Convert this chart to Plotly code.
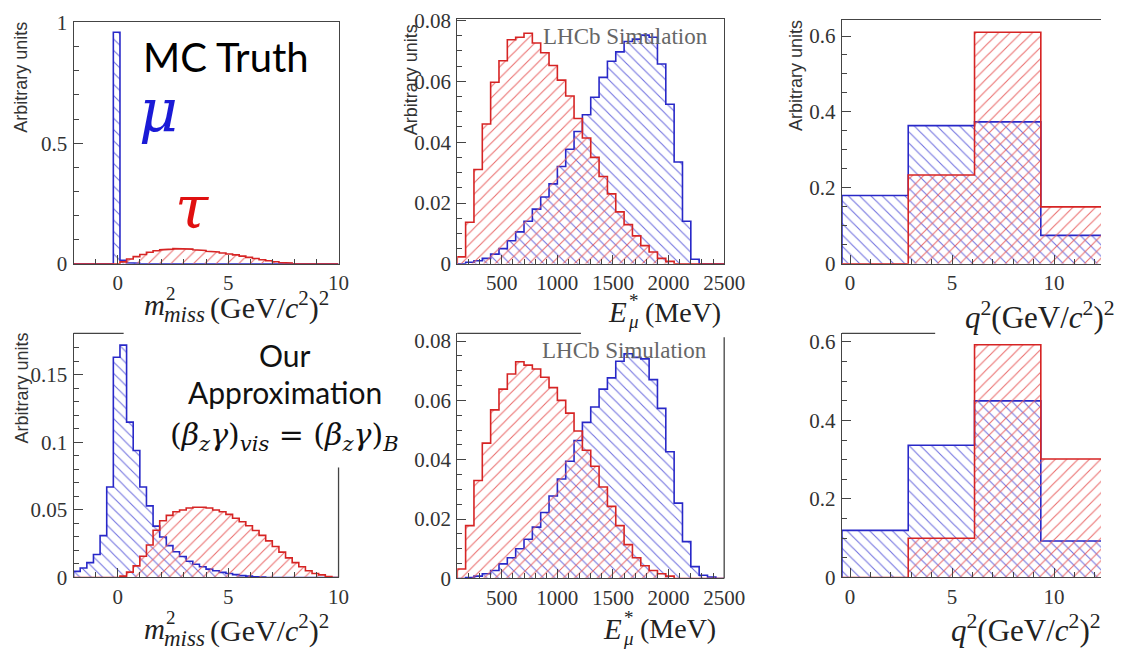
import numpy as np
import plotly.graph_objects as go

W, H = 1122, 658

# ---------------- data ----------------
# m_miss^2 : 40 bins of 0.3 GeV^2 starting at -2
MMISS_LOW, MMISS_BIN = -2.0, 0.3
mmiss_truth_mu = [0, 0, 0, 0, 0, 0, 0.96, 0.015, 0.004, 0.002,
                  0, 0, 0, 0, 0, 0, 0, 0, 0, 0,
                  0, 0, 0, 0, 0, 0, 0, 0, 0, 0,
                  0, 0, 0, 0, 0, 0, 0, 0, 0, 0]
mmiss_truth_tau = [0, 0, 0, 0, 0, 0, 0, 0.008, 0.02, 0.03,
                   0.039, 0.048, 0.054, 0.058, 0.061, 0.063, 0.064, 0.061, 0.058, 0.055,
                   0.052, 0.049, 0.045, 0.041, 0.037, 0.032, 0.027, 0.022, 0.017, 0.013,
                   0.009, 0.005, 0.003, 0.001, 0, 0, 0, 0, 0, 0]
mmiss_approx_mu = [0.0045, 0.007, 0.011, 0.017, 0.031, 0.067, 0.163, 0.172, 0.115, 0.094,
                   0.067, 0.053, 0.038, 0.030, 0.0236, 0.019, 0.0155, 0.012, 0.0098, 0.0079,
                   0.0062, 0.005, 0.0038, 0.003, 0.0021, 0.0014, 0.001, 0.0006, 0.0004, 0,
                   0, 0, 0, 0, 0, 0, 0, 0, 0, 0]
mmiss_approx_tau = [0, 0, 0, 0, 0, 0, 0, 0.001, 0.004, 0.0086,
                    0.0157, 0.024, 0.035, 0.042, 0.046, 0.0486, 0.050, 0.0514, 0.052, 0.052,
                    0.0514, 0.050, 0.0486, 0.0467, 0.0438, 0.0412, 0.0383, 0.0348, 0.0312, 0.0271,
                    0.0229, 0.0188, 0.0145, 0.011, 0.0079, 0.005, 0.003, 0.0019, 0.0007, 0]

# E*_mu : 32 bins of 75 MeV starting at 100 MeV
EMU_LOW, EMU_BIN = 100.0, 75.0
emu_truth_mu = [0, 0.0005, 0.001, 0.0018, 0.0032, 0.005, 0.0076, 0.0105, 0.014, 0.018,
                0.022, 0.0263, 0.032, 0.0377, 0.0435, 0.049, 0.0548, 0.0613, 0.0666, 0.0697,
                0.0731, 0.0739, 0.0752, 0.0745, 0.0657, 0.0525, 0.0335, 0.014, 0.0015, 0,
                0, 0]
emu_truth_tau = [0.0023, 0.0137, 0.031, 0.046, 0.0597, 0.0668, 0.0737, 0.0745, 0.0758, 0.0726,
                 0.0694, 0.0652, 0.0604, 0.0552, 0.0478, 0.0414, 0.035, 0.0287, 0.023, 0.0171,
                 0.0129, 0.0092, 0.006, 0.0039, 0.0018, 0.0008, 0, 0, 0, 0,
                 0, 0]
emu_approx_mu = [0, 0.0003, 0.0008, 0.0016, 0.0027, 0.0049, 0.007, 0.01, 0.0132, 0.0173,
                 0.0222, 0.0278, 0.0335, 0.0395, 0.0465, 0.0526, 0.0578, 0.0638, 0.0676, 0.0732,
                 0.0757, 0.0745, 0.074, 0.067, 0.0573, 0.0427, 0.0254, 0.0124, 0.004, 0.0011,
                 0.0005, 0]
emu_approx_tau = [0.0032, 0.0178, 0.033, 0.0456, 0.0568, 0.0638, 0.0689, 0.073, 0.0719, 0.0706,
                  0.0678, 0.0643, 0.06, 0.0557, 0.0497, 0.0432, 0.0378, 0.0308, 0.0243, 0.0178,
                  0.0114, 0.007, 0.0043, 0.0027, 0.0016, 0.0008, 0, 0, 0, 0,
                  0, 0]

# q^2 : four bins
q2_edges = [-0.4, 2.85, 6.1, 9.35, 12.6]
q2_truth_mu = [0.18, 0.364, 0.374, 0.075]
q2_truth_tau = [0.0, 0.234, 0.61, 0.15]
q2_approx_mu = [0.12, 0.337, 0.45, 0.093]
q2_approx_tau = [0.0, 0.10, 0.593, 0.302]

# ---------------- helpers ----------------
def px(x):
    return x / W


def py(y):
    return 1 - y / H


def uniform_edges(low, width, n):
    return [low + width * i for i in range(n + 1)]


def step_path(edges, values):
    xs, ys = [edges[0]], [0.0]
    for i, v in enumerate(values):
        xs += [edges[i], edges[i + 1]]
        ys += [v, v]
    xs.append(edges[-1])
    ys.append(0.0)
    return xs, ys


RED = "#d62424"
BLUE = "#2828c8"
RED_HATCH = "rgba(232,96,96,0.9)"
BLUE_HATCH = "rgba(100,100,220,0.9)"


def hist_trace(edges, values, color, hatch_color, shape, xa, ya):
    xs, ys = step_path(edges, values)
    return go.Scatter(
        x=xs, y=ys, mode="lines", xaxis=xa, yaxis=ya,
        line=dict(color=color, width=1.6, shape="linear"),
        fill="tozeroy", fillcolor="rgba(0,0,0,0)",
        fillpattern=dict(shape=shape, fgcolor=hatch_color, bgcolor="rgba(0,0,0,0)",
                         size=8, solidity=0.14, fillmode="replace"),
        hoverinfo="skip", showlegend=False,
    )


mm_edges = uniform_edges(MMISS_LOW, MMISS_BIN, len(mmiss_truth_mu))
emu_edges = uniform_edges(EMU_LOW, EMU_BIN, len(emu_truth_mu))

fig = go.Figure()
panels = [
    # (axis suffix, edges, mu values, tau values)
    ("", mm_edges, mmiss_truth_mu, mmiss_truth_tau),
    ("2", emu_edges, emu_truth_mu, emu_truth_tau),
    ("3", q2_edges, q2_truth_mu, q2_truth_tau),
    ("4", mm_edges, mmiss_approx_mu, mmiss_approx_tau),
    ("5", emu_edges, emu_approx_mu, emu_approx_tau),
    ("6", q2_edges, q2_approx_mu, q2_approx_tau),
]
for suf, edges, mu, tau in panels:
    fig.add_trace(hist_trace(edges, mu, BLUE, BLUE_HATCH, "\\", "x" + suf, "y" + suf))
    fig.add_trace(hist_trace(edges, tau, RED, RED_HATCH, "/", "x" + suf, "y" + suf))

AX_COLOR = "#444444"
TICK_FONT = dict(family="Liberation Serif", size=21, color="#333333")


def xaxis(x0, x1, rng, tickvals, minor, anchor, mirror):
    return dict(domain=[px(x0), px(x1)], range=rng, anchor=anchor,
                tickmode="array", tickvals=tickvals,
                ticks="inside", ticklen=9, tickwidth=1.2, tickcolor=AX_COLOR,
                minor=dict(ticks="inside", ticklen=5, tickwidth=1, tickcolor=AX_COLOR,
                           tickmode="linear", tick0=0, dtick=minor),
                showline=True, linecolor=AX_COLOR, linewidth=1.3, mirror=mirror,
                showgrid=False, zeroline=False, tickfont=TICK_FONT,
                ticklabelstandoff=0, fixedrange=True)


def yaxis(top, bottom, rng, tickvals, minor, anchor, mirror):
    return dict(domain=[py(bottom), py(top)], range=rng, anchor=anchor,
                tickmode="array", tickvals=tickvals,
                ticks="inside", ticklen=9, tickwidth=1.2, tickcolor=AX_COLOR,
                minor=dict(ticks="inside", ticklen=5, tickwidth=1, tickcolor=AX_COLOR,
                           tickmode="linear", tick0=0, dtick=minor),
                showline=True, linecolor=AX_COLOR, linewidth=1.3, mirror=mirror,
                showgrid=False, zeroline=False, tickfont=TICK_FONT,
                ticklabelstandoff=1, fixedrange=True)


layout_axes = dict(
    xaxis=xaxis(75, 345, [-2, 10], [0, 5, 10], 1, "y", True),
    yaxis=yaxis(11, 262, [0, 1.004], [0, 0.5, 1], 0.1, "x", True),
    xaxis2=xaxis(466, 738, [100, 2500], [500, 1000, 1500, 2000, 2500], 100, "y2", True),
    yaxis2=yaxis(8, 262, [0, 0.0806], [0, 0.02, 0.04, 0.06, 0.08], 0.005, "x2", True),
    xaxis3=xaxis(858, W, [-0.4, 12.3], [0, 5, 10], 1, "y3", True),
    yaxis3=yaxis(9, 262, [0, 0.643], [0, 0.2, 0.4, 0.6], 0.05, "x3", False),
    xaxis4=xaxis(75, 345, [-2, 10], [0, 5, 10], 1, "y4", False),
    yaxis4=yaxis(334, 587, [0, 0.1807], [0, 0.05, 0.1, 0.15], 0.01, "x4", False),
    xaxis5=xaxis(466, 738, [100, 2500], [500, 1000, 1500, 2000, 2500], 100, "y5", False),
    yaxis5=yaxis(334, 588, [0, 0.0826], [0, 0.02, 0.04, 0.06, 0.08], 0.005, "x5", False),
    xaxis6=xaxis(858, W, [-0.4, 12.3], [0, 5, 10], 1, "y6", False),
    yaxis6=yaxis(334, 587, [0, 0.622], [0, 0.2, 0.4, 0.6], 0.05, "x6", False),
)

# partial frame edges of the lower row
frame_segments = [
    (75, 334, 126, 334), (345, 473, 345, 587),
    (466, 334, 592, 334), (738, 338, 738, 588),
    (858, 334, 953, 334),
]
shapes = [dict(type="line", xref="paper", yref="paper",
               x0=px(a), y0=py(b), x1=px(c), y1=py(d),
               line=dict(color=AX_COLOR, width=1.3))
          for a, b, c, d in frame_segments]

annotations = []


def text(x, y, s, size, family="Liberation Serif", color="#222222",
         xanchor="left", yanchor="middle", angle=0):
    annotations.append(dict(x=px(x), y=py(y), xref="paper", yref="paper", text=s,
                            showarrow=False, xanchor=xanchor, yanchor=yanchor,
                            textangle=angle, borderpad=0,
                            font=dict(family=family, size=size, color=color)))


# y-axis titles
for x, y in [(22, 10), (419, 13), (811, 8), (22, 332)]:
    text(x, y, "Arbitrary units", 18, family="Liberation Sans", color="#333333",
         xanchor="center", yanchor="top", angle=-90)

# LHCb labels
text(637, 26, "LHCb Simulation", 23, color="#666666", xanchor="center")
text(636, 352, "LHCb Simulation", 23, color="#666666", xanchor="center")


# m_miss^2 axis titles: italic m with stacked exponent and subscript
def mmiss_title(x, base):
    text(x + 22, base - 8, "<i>m</i>", 29, xanchor="right")
    text(x + 21, base - 20, "2", 19)
    text(x + 19, base + 2, "<i>miss</i>", 23)
    text(x + 66, base - 8, "(GeV/<i>c</i><sup>2</sup>)<sup>2</sup>", 30)


mmiss_title(147, 313)
mmiss_title(147, 648)


def emu_title(x, base):
    text(x + 28, base - 8, "<i>E</i>", 29, xanchor="right")
    text(x + 28, base - 20, "*", 19)
    text(x + 27, base + 2, "<i>μ</i>", 19)
    text(x + 44, base - 8, "(MeV)", 28)


emu_title(612, 320)
emu_title(607, 648)

text(982, 316, "<i>q</i><sup>2</sup>(GeV/<i>c</i><sup>2</sup>)<sup>2</sup>", 31)
text(968, 640, "<i>q</i><sup>2</sup>(GeV/<i>c</i><sup>2</sup>)<sup>2</sup>", 31)

# slide text
text(145, 48, "MC Truth", 40, family="Lato", color="#000000")
text(141, 104, "<i>μ</i>", 60, family="DejaVu Serif", color="#1a1ad6")
text(177, 203, "<i>τ</i>", 60, family="DejaVu Serif", color="#e01010")
text(290, 356, "Our", 30, family="Lato", color="#111111", xanchor="center")
text(290, 395, "Approximation", 30, family="Lato", color="#111111", xanchor="center")
text(172, 441, "(<i>β<sub>z</sub>γ</i>)<sub><i>vis</i></sub> = (<i>β<sub>z</sub>γ</i>)<sub><i>B</i></sub>",
     30, family="DejaVu Serif", color="#111111")

fig.update_layout(
    width=W, height=H, autosize=False,
    margin=dict(l=0, r=0, t=0, b=0),
    paper_bgcolor="white", plot_bgcolor="rgba(0,0,0,0)",
    showlegend=False,
    shapes=shapes, annotations=annotations,
    **layout_axes,
)

fig.write_html("out.html")
